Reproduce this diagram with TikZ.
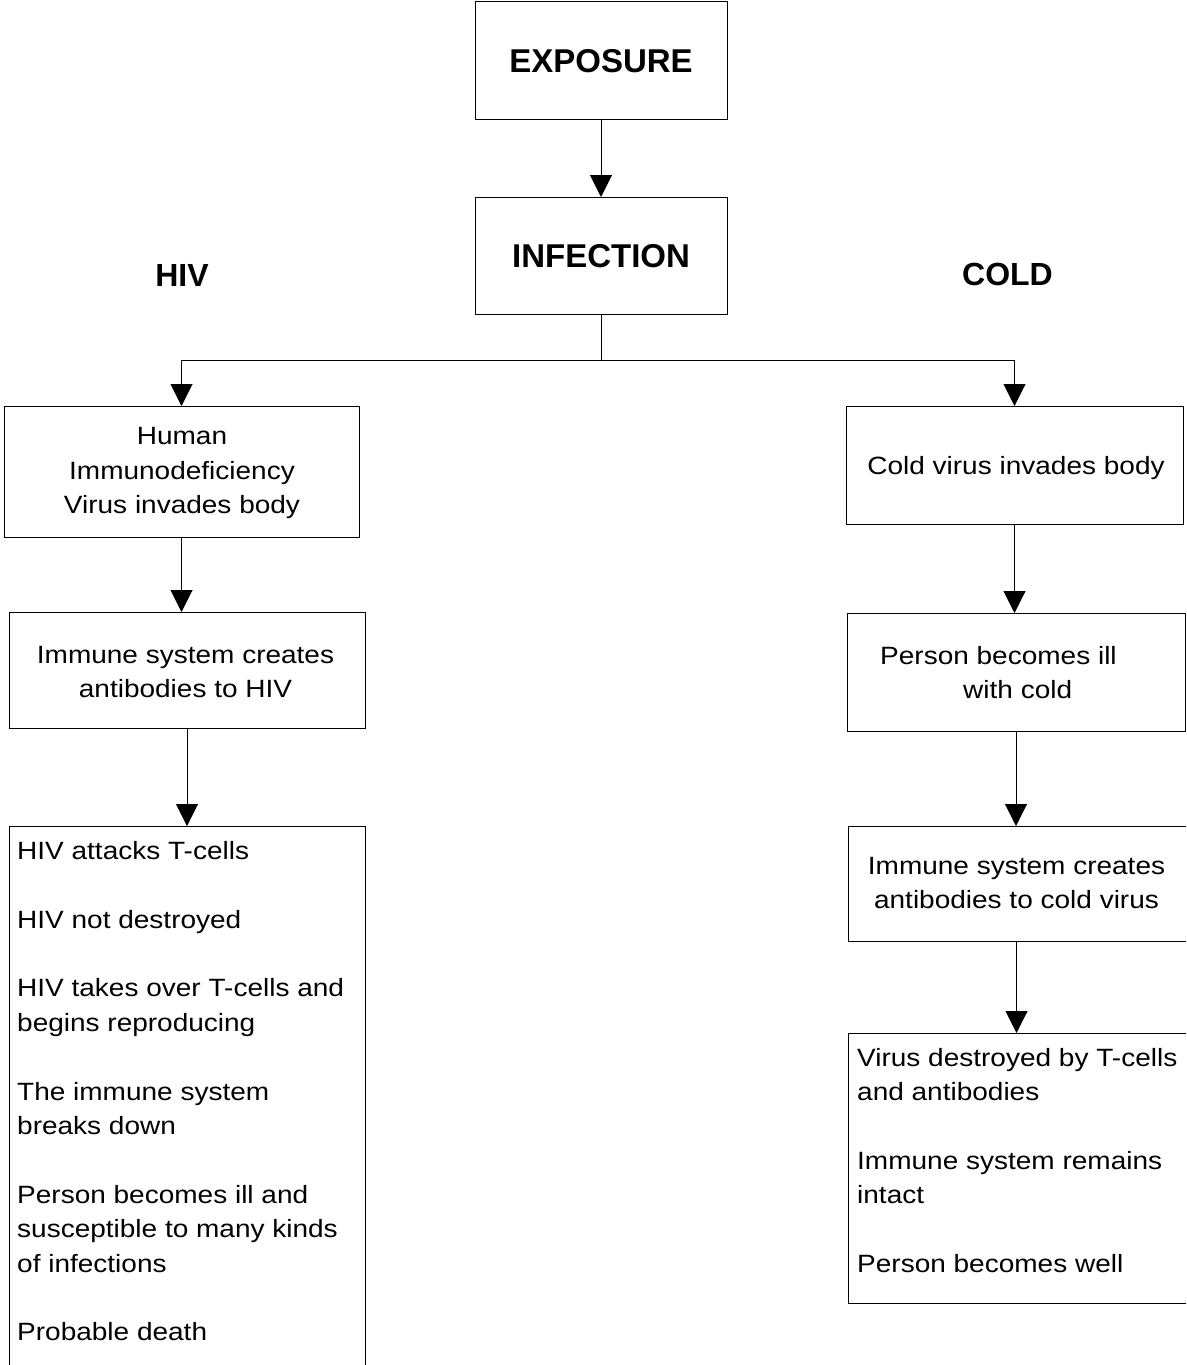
\documentclass[tikz,border=0pt]{standalone}
\usepackage{fontspec}
\setmainfont{Liberation Sans}
\newfontfamily\bodyfont[FakeStretch=1.12]{Liberation Sans}
\usetikzlibrary{arrows.meta}

\tikzset{
  box/.style={draw=black, line width=1pt, inner sep=0pt, outer sep=0pt, anchor=north west},
  head/.style={font=\fontsize{33}{40}\selectfont\bfseries, inner sep=0pt, anchor=base},
  lbl/.style={font=\fontsize{32}{38}\selectfont\bfseries, inner sep=0pt, anchor=base},
  txt/.style={font=\bodyfont\fontsize{25}{34.4}\selectfont, inner sep=0pt, align=center},
  lst/.style={font=\bodyfont\fontsize{25}{34.4}\selectfont, inner sep=0pt, align=left, anchor=north west},
  ln/.style={line width=1pt, draw=black},
  arr/.style={ln, -{Triangle[width=22pt,length=22pt]}}
}

\begin{document}
\begin{tikzpicture}[x=1pt, y=-1pt]
\clip (0,0) rectangle (1186,1365);
\fill[white] (0,0) rectangle (1186,1365);

% central boxes
\node[box, minimum width=252pt, minimum height=118pt] (exp) at (475,1) {};
\node[head] (expT) at (601,72.7) {EXPOSURE};
\node[box, minimum width=252pt, minimum height=117pt] (inf) at (475,197) {};
\node[head] (infT) at (601,267.7) {INFECTION};

% branch labels
\node[lbl] (hivL) at (182,286.7) {HIV};
\node[lbl] (coldL) at (1007.5,285) {COLD};

% HIV branch
\node[box, minimum width=355pt, minimum height=131pt] (hivA) at (4,406) {};
\node[txt] (hivAT) at (182,473) {Human\\Immunodeficiency\\Virus invades body};
\node[box, minimum width=356pt, minimum height=116pt] (hivB) at (9,612) {};
\node[txt] (hivBT) at (185.5,672) {Immune system creates\\antibodies to HIV};
\node[box, minimum width=356pt, minimum height=600pt] (hivC) at (9,826) {};
\node[lst] (hivCT) at (17,841) {HIV attacks T-cells\\[34.4pt]
HIV not destroyed\\[34.4pt]
HIV takes over T-cells and\\begins reproducing\\[34.4pt]
The immune system\\breaks down\\[34.4pt]
Person becomes ill and\\susceptible to many kinds\\of infections\\[34.4pt]
Probable death};

% cold branch
\node[box, minimum width=337pt, minimum height=118pt] (coldA) at (846,406) {};
\node[txt] (coldAT) at (1016,468.5) {Cold virus invades body};
\node[box, minimum width=338pt, minimum height=118pt] (coldB) at (847,613) {};
\node[lst] (coldBT) at (880,646) {Person becomes ill\\\hspace*{83pt}with cold};
\node[box, minimum width=400pt, minimum height=115pt] (coldC) at (848,826) {};
\node[txt] (coldCT) at (1016.5,883) {Immune system creates\\antibodies to cold virus};
\node[box, minimum width=400pt, minimum height=270pt] (coldD) at (848,1033) {};
\node[lst] (coldDT) at (857,1048) {Virus destroyed by T-cells\\and antibodies\\[34.4pt]
Immune system remains\\intact\\[34.4pt]
Person becomes well};

% connectors
\coordinate (split) at (602,360);
\draw[arr] (exp.south) -- (inf.north);
\draw[ln] (inf.south) -- (inf.south |- split);
\draw[arr] (inf.south |- split) -| (hivA.north);
\draw[arr] (inf.south |- split) -| (coldA.north);
\draw[arr] (hivA.south) -- (hivA.south |- hivB.north);
\draw[arr] (hivB.south) -- (hivC.north);
\draw[arr] (coldA.south) -- (coldA.south |- coldB.north);
\draw[arr] (coldB.south) -- (coldB.south |- coldC.north);
\draw[arr] (coldCT.south |- coldC.south) -- (coldCT.south |- coldD.north);
\end{tikzpicture}
\end{document}
